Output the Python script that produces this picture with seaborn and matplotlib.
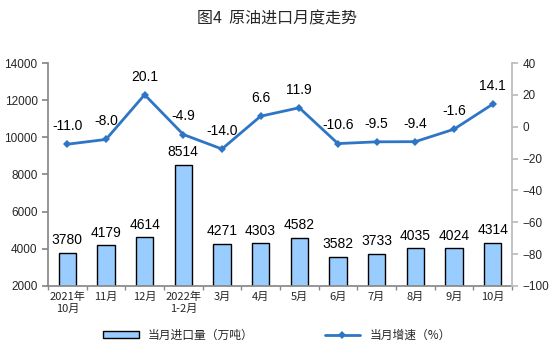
import matplotlib
matplotlib.use("Agg")
import matplotlib.pyplot as plt
import seaborn as sns
import pandas as pd
import numpy as np
from matplotlib.patches import Patch
from matplotlib.lines import Line2D

months = ["2021年\n10月", "11月", "12月", "2022年\n1-2月", "3月", "4月", "5月", "6月", "7月", "8月", "9月", "10月"]
imports = [3780, 4179, 4614, 8514, 4271, 4303, 4582, 3582, 3733, 4035, 4024, 4314]
growth = [-11.0, -8.0, 20.1, -4.9, -14.0, 6.6, 11.9, -10.6, -9.5, -9.4, -1.6, 14.1]

sns.set_theme(style="white")
plt.rcParams['font.family'] = ['Liberation Sans', 'Noto Sans CJK SC', 'DejaVu Sans']

df = pd.DataFrame({"month": months, "imports": imports, "growth": growth})

fig = plt.figure(figsize=(5.54, 3.53), dpi=100)
ax = fig.add_axes([0.0866, 0.19, 0.924 - 0.0866, 0.8215 - 0.19])

sns.barplot(data=df, x="month", y="imports", ax=ax, color="#99CCFF",
            edgecolor="black", linewidth=1.0, width=0.45, saturation=1)
ax.set_ylim(2000, 14000)
ax.set_yticks(range(2000, 14001, 2000))
ax.set_xlim(-0.5, len(months) - 0.5)
ax.set_xlabel("")
ax.set_ylabel("")
for i, v in enumerate(imports):
    ax.annotate(f"{v}", (i, v), xytext=(0, 4), textcoords="offset points",
                ha="center", va="bottom", fontsize=10, color="black")

ax2 = ax.twinx()
x = np.arange(len(months))
sns.lineplot(x=x, y=growth, ax=ax2, color="#2E75C6", linewidth=2, marker="D",
             markersize=4, markeredgewidth=0)
ax2.set_ylim(-100, 40)
ax2.set_yticks(range(-100, 41, 20))
for i, v in enumerate(growth):
    ax2.annotate(f"{v:.1f}", (i, v), xytext=(0, 8), textcoords="offset points",
                 ha="center", va="bottom", fontsize=10, color="black")

for a in (ax, ax2):
    a.spines["top"].set_visible(False)
ax.spines["right"].set_visible(False)
ax2.spines["left"].set_visible(False)
ax2.spines["bottom"].set_visible(False)
ax.spines["left"].set_color("#888888")
ax.spines["bottom"].set_color("#888888")
ax2.spines["right"].set_color("#BBBBBB")

ax.set_xticks(x)
ax.set_xticklabels(months, fontsize=8, family=['Noto Sans CJK SC'])
ax.tick_params(axis="x", length=0, pad=4)
ax.set_xticks(np.arange(-0.5, len(months), 1), minor=True)
ax.tick_params(axis="x", which="minor", length=3, color="#888888", direction="out", bottom=True)
ax.tick_params(axis="y", length=4, color="#888888", direction="out", labelsize=8.5, left=True)
ax2.tick_params(axis="y", length=4, color="#BBBBBB", direction="out", labelsize=8.5, right=True)
ax2.set_ylabel("")

fig.suptitle("图4  原油进口月度走势", y=0.97, fontsize=11.5, family=['Noto Sans CJK SC'])

handles = [Patch(facecolor="#99CCFF", edgecolor="black", linewidth=1.0),
           Line2D([0], [0], color="#2E75C6", linewidth=2, marker="D", markersize=4, markeredgewidth=0)]
labels = ["当月进口量（万吨）", "当月增速（%）"]
if ax2.get_legend():
    ax2.get_legend().remove()
fig.legend(handles, labels, loc="center", bbox_to_anchor=(0.5, 0.05), ncol=2, frameon=False,
           prop={"family": "Noto Sans CJK SC", "size": 8.5}, columnspacing=6,
           handlelength=3, handleheight=0.5)

fig.savefig("out.png", dpi=100)
